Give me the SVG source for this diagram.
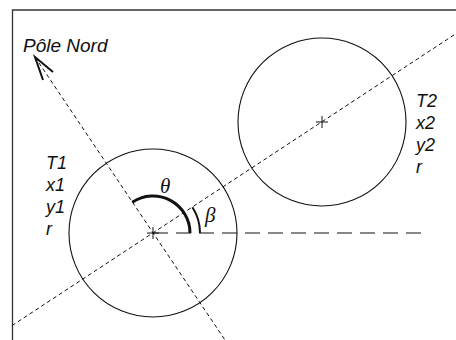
<svg xmlns="http://www.w3.org/2000/svg" width="456" height="340" viewBox="0 0 456 340">
<style>
.frame{stroke:#333;stroke-width:1.3;fill:none}
.circ{stroke:#111;stroke-width:1.1;fill:none}
.dash{stroke:#111;stroke-width:1;stroke-dasharray:4,3;fill:none}
.ldash{stroke:#111;stroke-width:1.2;stroke-dasharray:15,8;fill:none}
.cross{stroke:#111;stroke-width:1;fill:none}
.lbl{font-family:"Liberation Sans",Arial,sans-serif;font-style:italic;font-size:18px;fill:#111}
.greek{font-family:"Liberation Serif","Times New Roman",serif;font-style:italic;font-size:21px;fill:#111}
</style>
<rect width="456" height="340" fill="#fff"/>
<g id="frame">
<path class="frame" d="M12.5,340 V10 H456"/>
</g>
<g id="connectors">
<path class="dash" d="M12,325.6 L456,33.6"/>
<path class="dash" d="M35,57 L225,340"/>
<path class="ldash" d="M153,233 H422"/>
<path d="M43,80 L35,57 L53,72" stroke="#111" stroke-width="2" fill="none"/>
<path id="theta-arc" d="M132.3,202.3 A37,37 0 0 1 190,233" stroke="#111" stroke-width="3" fill="none"/>
<path id="beta-arc" d="M192.4,207.2 A47,47 0 0 1 200,233" stroke="#111" stroke-width="2" fill="none"/>
</g>
<g id="T1">
<circle class="circ" cx="153" cy="233" r="84"/>
<path class="cross" d="M147,233 H159 M153,227 V239"/>
<text class="lbl" x="46" y="169">T1</text>
<text class="lbl" x="46" y="191">x1</text>
<text class="lbl" x="46" y="213">y1</text>
<text class="lbl" x="46" y="235">r</text>
</g>
<g id="T2">
<circle class="circ" cx="322" cy="122" r="84"/>
<path class="cross" d="M316,122 H328 M322,116 V128"/>
<text class="lbl" x="416" y="107">T2</text>
<text class="lbl" x="416" y="129">x2</text>
<text class="lbl" x="416" y="151">y2</text>
<text class="lbl" x="416" y="173">r</text>
</g>
<g id="pole-nord">
<text class="lbl" x="23" y="52" style="font-size:19px">Pôle Nord</text>
</g>
<g id="labels">
<text class="greek" x="160" y="193">θ</text>
<text class="greek" x="205" y="222">β</text>
</g>
</svg>
